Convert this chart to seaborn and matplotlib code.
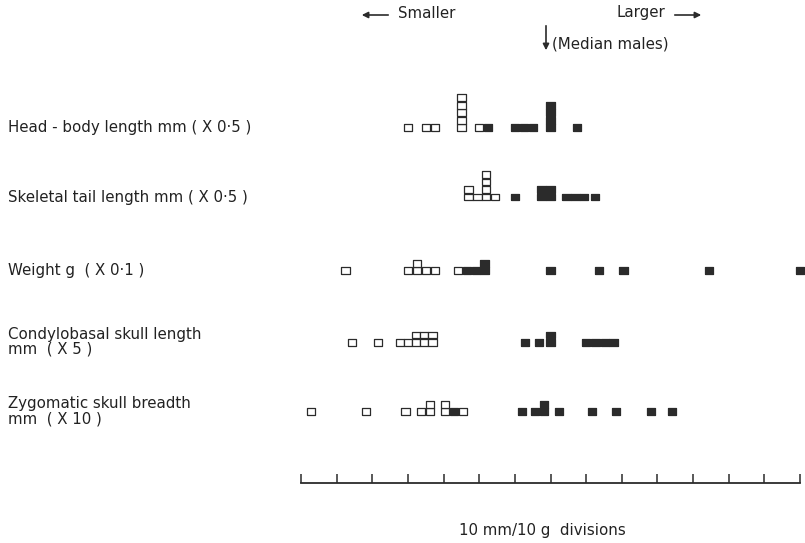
import numpy as np
import pandas as pd
import matplotlib
matplotlib.use("Agg")
import matplotlib.pyplot as plt
import seaborn as sns

# positions are in ruler divisions (0..14, median males at 7), counts = squares stacked
head_open_pos = [3.0, 3.5, 3.75, 4.5, 5.0]
head_open_n = [1, 1, 1, 5, 1]
head_fill_pos = [5.25, 6.0, 6.25, 6.5, 7.0, 7.75]
head_fill_n = [1, 1, 1, 1, 4, 1]

tail_open_pos = [4.7, 4.95, 5.2, 5.45]
tail_open_n = [2, 1, 4, 1]
tail_fill_pos = [6.0, 6.75, 7.0, 7.45, 7.7, 7.95, 8.25]
tail_fill_n = [1, 2, 2, 1, 1, 1, 1]

weight_open_pos = [1.25, 3.0, 3.25, 3.5, 3.75, 4.4]
weight_open_n = [1, 1, 2, 1, 1, 1]
weight_fill_pos = [4.65, 4.9, 5.15, 7.0, 8.35, 9.05, 11.45, 14.0]
weight_fill_n = [1, 1, 2, 1, 1, 1, 1, 1]

condy_open_pos = [1.43, 2.15, 2.77, 3.0, 3.23, 3.46, 3.69]
condy_open_n = [1, 1, 1, 1, 2, 2, 2]
condy_fill_pos = [6.29, 6.67, 7.0, 8.0, 8.26, 8.52, 8.77]
condy_fill_n = [1, 1, 2, 1, 1, 1, 1]

zygo_open_pos = [0.28, 1.83, 2.93, 3.36, 3.62, 4.04, 4.55]
zygo_open_n = [1, 1, 1, 1, 2, 2, 1]
zygo_fill_pos = [4.29, 6.2, 6.57, 6.82, 7.24, 8.16, 8.84, 9.82, 10.41]
zygo_fill_n = [1, 1, 1, 2, 1, 1, 1, 1, 1]

row_labels = ["Head - body length mm ( X 0\u00b75 )",
              "Skeletal tail length mm ( X 0\u00b75 )",
              "Weight g  ( X 0\u00b71 )",
              "Condylobasal skull length\nmm  ( X 5 )",
              "Zygomatic skull breadth\nmm  ( X 10 )"]

rows = [(head_open_pos, head_open_n, head_fill_pos, head_fill_n),
        (tail_open_pos, tail_open_n, tail_fill_pos, tail_fill_n),
        (weight_open_pos, weight_open_n, weight_fill_pos, weight_fill_n),
        (condy_open_pos, condy_open_n, condy_fill_pos, condy_fill_n),
        (zygo_open_pos, zygo_open_n, zygo_fill_pos, zygo_fill_n)]

W, H = 805, 543
AX_BOTTOM = 482.7          # ruler line, pixels from top
ROW_Y = [127.8, 197.0, 270.8, 342.5, 411.7]   # centre of bottom square, px from top
LEVEL = 7.5
INK = "#2b2b2b"
FS = 10.8


def px(x, y):
    return x / W, 1 - y / H


def build_squares():
    recs = []
    for base, (op, on, fp, fn) in zip(ROW_Y, rows):
        for kind, pos, cnt in (("open", op, on), ("filled", fp, fn)):
            for x, n in zip(pos, cnt):
                for lev in range(n):
                    recs.append({"x": x, "y": base - lev * LEVEL, "kind": kind})
    return pd.DataFrame(recs)


sns.set_style("white")
plt.rcParams["font.family"] = ["DejaVu Sans"]

fig = plt.figure(figsize=(W / 100, H / 100), dpi=100)
ax = fig.add_axes([301 / W, 1 - AX_BOTTOM / H, 499 / W, AX_BOTTOM / H])

squares = build_squares()
rect = [(-0.5, -0.42), (0.5, -0.42), (0.5, 0.42), (-0.5, 0.42), (-0.5, -0.42)]
sns.scatterplot(data=squares, x="x", y="y", hue="kind",
                palette={"open": "white", "filled": INK},
                marker=rect, s=35, edgecolor=INK, linewidth=0.9,
                legend=False, clip_on=False, ax=ax, zorder=3)

ax.set_xlim(0, 14)
ax.set_ylim(AX_BOTTOM, 0)
ax.set_xticks(np.arange(15))
ax.set_xticklabels([])
ax.set_yticks([])
ax.set_xlabel("")
ax.set_ylabel("")
ax.tick_params(axis="x", direction="in", length=6.8, width=1.1, color=INK, bottom=True)
for side in ["top", "left", "right"]:
    ax.spines[side].set_visible(False)
ax.spines["bottom"].set_linewidth(1.3)
ax.spines["bottom"].set_color(INK)
ax.patch.set_alpha(0)

# row labels
for lab, yy in zip(row_labels, ROW_Y):
    if "\n" in lab:
        first, second = lab.split("\n")
        fig.text(*px(8, yy - 8), first, fontsize=FS, color="#222", va="center", ha="left")
        fig.text(*px(8, yy + 7), second, fontsize=FS, color="#222", va="center", ha="left")
    else:
        fig.text(*px(8, yy), lab, fontsize=FS, color="#222", va="center", ha="left")

# header arrows and text
arrow = dict(arrowstyle="-|>", color=INK, lw=1.2, mutation_scale=9)
fig.text(*px(398, 14), "Smaller", fontsize=FS, color="#222", va="center", ha="left")
ax.annotate("", xy=px(359, 15), xytext=px(391, 15),
            xycoords="figure fraction", textcoords="figure fraction", arrowprops=arrow)
fig.text(*px(665, 13), "Larger", fontsize=FS, color="#222", va="center", ha="right")
ax.annotate("", xy=px(704, 15), xytext=px(672, 15),
            xycoords="figure fraction", textcoords="figure fraction", arrowprops=arrow)
ax.annotate("", xy=px(546, 53), xytext=px(546, 23),
            xycoords="figure fraction", textcoords="figure fraction", arrowprops=arrow)
fig.text(*px(552, 44), "(Median males)", fontsize=FS, color="#222", va="center", ha="left")

fig.text(*px(542, 531), "10 mm/10 g  divisions", fontsize=FS, color="#222",
         va="center", ha="center")

fig.savefig("out.png", dpi=100, facecolor="white")
